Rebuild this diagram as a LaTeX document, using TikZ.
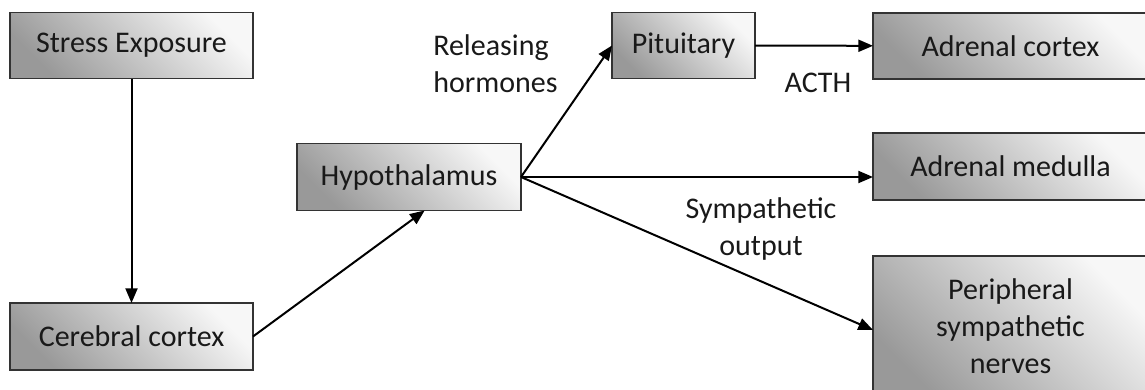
\documentclass[tikz,border=0pt]{standalone}
\usepackage{fontspec}
\setmainfont{Carlito}
\usetikzlibrary{arrows.meta}

\begin{document}
\begin{tikzpicture}[x=0.75pt,y=0.75pt,yscale=-1,xscale=1,
  box/.style={draw=black!80, line width=1.3pt, inner sep=0pt, outer sep=0pt,
    top color=black!40, bottom color=black!3, shading angle=135,
    text=black!90, font=\fontsize{22.5}{27.75}\selectfont, align=center},
  lbl/.style={inner sep=0.75pt, text=black!90, font=\fontsize{22.5}{27.75}\selectfont},
  arr/.style={draw=black, line width=1.5pt, -{Triangle[length=11pt,width=9pt]}}]
\useasboundingbox (0,0) rectangle (1145,389);

%Shape: Rectangle [id:stress]
\draw (131.5,45.5) node [box, minimum width=182.25pt, minimum height=49.5pt] (stress) {Stress Exposure};
%Shape: Rectangle [id:cerebral]
\draw (131.5,336.5) node [box, minimum width=182.25pt, minimum height=50.25pt] (cerebral) {Cerebral cortex};
%Shape: Rectangle [id:hypo]
\draw (409,177) node [box, minimum width=168pt, minimum height=50.25pt] (hypo) {Hypothalamus};
%Shape: Rectangle [id:pit]
\draw (683.5,45.5) node [box, minimum width=107.25pt, minimum height=49.5pt] (pit) {Pituitary};
%Shape: Rectangle [id:cortex]
\draw (1010.5,46) node [box, minimum width=206.25pt, minimum height=49.5pt] (cortex) {Adrenal cortex};
%Shape: Rectangle [id:medulla]
\draw (1010.5,166.5) node [box, minimum width=206.25pt, minimum height=50.25pt] (medulla) {Adrenal medulla};
%Shape: Rectangle [id:peri]
\draw (1010.5,326) node [box, minimum width=206.25pt, minimum height=105pt] (peri) {Peripheral\\sympathetic\\nerves};

% Text Node
\draw (432,63.5) node [lbl, anchor=west, align=left] (rel) {Releasing\\hormones};
% Text Node
\draw (818,83) node [lbl] (acth) {ACTH};
% Text Node
\draw (761,229) node [lbl, align=center] (symp) {Sympathetic\\output};

%Straight Lines
\draw [arr] (stress) -- (cerebral);
\draw [arr] (cerebral.east) -- (hypo.-65);
\draw [arr] (hypo.east) -- (pit.west);
\draw [arr] (hypo.east) -- (medulla.west |- hypo.east);
\draw [arr] (hypo.east) -- ([yshift=3pt]peri.west);
\draw [arr] (pit) -- (cortex);

\end{tikzpicture}
\end{document}
